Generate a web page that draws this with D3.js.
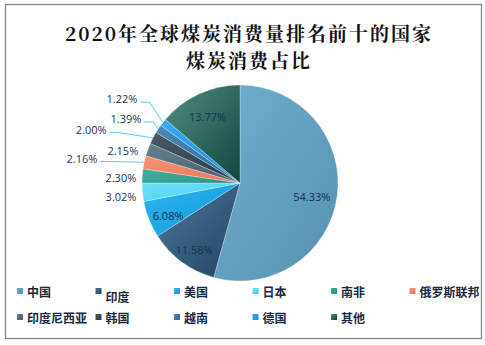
<!DOCTYPE html>
<html><head><meta charset="utf-8">
<script src="https://cdn.jsdelivr.net/npm/d3@7/dist/d3.min.js"></script>
<style>html,body{margin:0;padding:0;background:#fff;}</style>
</head><body>
<svg id="chart" width="485" height="345"></svg>
<script>
// ---- data ----
const countries = ["中国","印度","美国","日本","南非","俄罗斯联邦","印度尼西亚","韩国","越南","德国","其他"];
const shares = [54.33, 11.58, 6.08, 3.02, 2.30, 2.16, 2.15, 2.00, 1.39, 1.22, 13.77];
const titleLines = ["2020年全球煤炭消费量排名前十的国家", "煤炭消费占比"];

// ---- styles / layout ----
const colorsLight = ["#70b0d2","#4f7696","#2cb6f0","#6ce2fb","#46b2a2","#f69272","#668090","#4c5a68","#4c8aba","#38acf2","#528e84"];
const colorsDark  = ["#5690ae","#1c4764","#1398d6","#48cdec","#289282","#ea7858","#475d6c","#2a3846","#2c6898","#188ade","#0e463e"];
const insideIdx = new Set([0,1,2,10]);
const insideRatio = {0:0.74, 1:0.79, 2:0.79, 10:0.79};
// outside label offsets (px) relative to default anchor, and whether a leader line is drawn
const outsideLayout = {
  3:{dx:0,dy:4,leader:false}, 4:{dx:0,dy:2,leader:false}, 5:{dx:-41,dy:-3,leader:true},
  6:{dx:-4,dy:3,leader:false}, 7:{dx:-41,dy:-6,leader:true}, 8:{dx:-12,dy:-7,leader:true},
  9:{dx:-21,dy:-20,leader:true}
};

const svg = d3.select("#chart");
svg.append("rect").attr("x",5.5).attr("y",4.5).attr("width",476).attr("height",334)
  .attr("fill","#fff").attr("stroke","#858585").attr("stroke-width",1.3);

// title
const title = svg.append("text").attr("text-anchor","middle")
  .attr("font-family","'Noto Serif CJK SC','Noto Sans CJK SC',serif")
  .attr("font-size",19).attr("font-weight","bold").attr("fill","#111").attr("letter-spacing",2);
titleLines.forEach((t,i)=>{
  title.append("tspan").attr("x",249).attr("y",i===0?41:68).text(t);
});

// gradients
const defs = svg.append("defs");
countries.forEach((c,i)=>{
  const gr = defs.append("linearGradient").attr("id","g"+i)
    .attr("x1","0").attr("y1","0").attr("x2","1").attr("y2","1");
  gr.append("stop").attr("offset","0%").attr("stop-color",colorsLight[i]);
  gr.append("stop").attr("offset","100%").attr("stop-color",colorsDark[i]);
});

const cx = 240, cy = 183, r = 98;
const pie = d3.pie().sort(null).value(d=>d)(shares);
const arc = d3.arc().innerRadius(0).outerRadius(r);
const g = svg.append("g").attr("transform",`translate(${cx},${cy})`);
g.selectAll("path").data(pie).join("path")
  .attr("d",arc).attr("fill",(d,i)=>`url(#g${i})`)
  .attr("stroke","rgba(255,255,255,0.45)").attr("stroke-width",0.6);

const fmt = v => v.toFixed(2)+"%";
const labelFont = "'Open Sans','DejaVu Sans',sans-serif";
pie.forEach((d,i)=>{
  const mid = (d.startAngle+d.endAngle)/2;
  const sx = Math.sin(mid), sy = -Math.cos(mid);
  if (insideIdx.has(i)) {
    const rr = r*insideRatio[i];
    g.append("text").attr("x",sx*rr).attr("y",sy*rr+4)
      .attr("text-anchor","middle").attr("dominant-baseline","central")
      .attr("font-family",labelFont).attr("font-size",11).attr("fill","#16324a")
      .text(fmt(shares[i]));
  } else {
    const L = outsideLayout[i];
    const ax = sx*(r+6) + L.dx, ay = sy*(r+6) + L.dy;
    g.append("text").attr("x",ax).attr("y",ay)
      .attr("text-anchor","end").attr("dominant-baseline","central")
      .attr("font-family",labelFont).attr("font-size",11).attr("fill","#1c3552")
      .text(fmt(shares[i]));
    if (L.leader) {
      const ex = sx*r, ey = sy*r;
      const x0 = ax+3, y0 = ay+3.5;
      g.append("polyline")
        .attr("points",`${x0},${y0} ${x0+9},${y0} ${ex},${ey}`)
        .attr("fill","none").attr("stroke","#5cc8f2").attr("stroke-width",1);
    }
  }
});

// legend
const colX = [17, 95.5, 174, 252.5, 331, 409.5];
const rowY = [291, 317];
const leg = svg.append("g");
countries.forEach((c,i)=>{
  const col = i%6, row = Math.floor(i/6);
  const x = colX[col], y = rowY[row];
  leg.append("rect").attr("x",x).attr("y",y-3).attr("width",6).attr("height",6)
    .attr("fill",`url(#g${i})`);
  leg.append("text").attr("x",x+10).attr("y",y + (i===1?5:0))
    .attr("dominant-baseline","central")
    .attr("font-family","'Noto Sans CJK SC',sans-serif").attr("font-weight","bold")
    .attr("font-size",12).attr("fill","#1a2a40").text(c);
});
</script>
</body></html>
